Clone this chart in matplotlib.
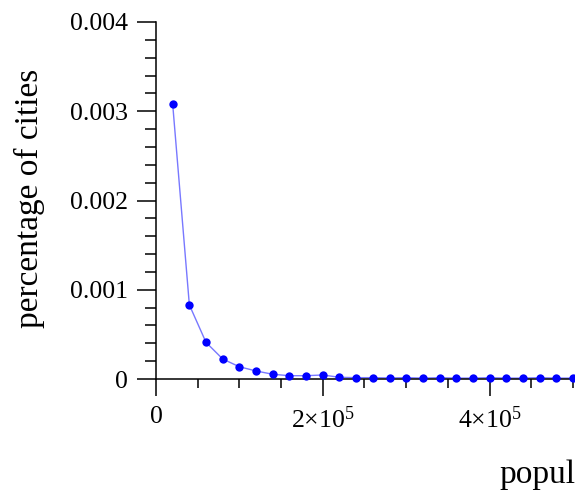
import matplotlib
matplotlib.use('Agg')
import matplotlib.pyplot as plt
from matplotlib.ticker import FixedLocator, FixedFormatter, MultipleLocator

# population bins (upper edge of each 2x10^4 bin) and share of cities
population = [20000, 40000, 60000, 80000, 100000, 120000, 140000, 160000, 180000, 200000,
              220000, 240000, 260000, 280000, 300000, 320000, 340000, 360000, 380000, 400000,
              420000, 440000, 460000, 480000, 500000]
share = [3.08e-3, 0.83e-3, 0.41e-3, 0.224e-3, 0.137e-3, 0.090e-3, 0.053e-3, 0.037e-3, 0.037e-3, 0.045e-3,
         0.019e-3, 0.015e-3, 0.015e-3, 0.012e-3, 0.015e-3, 0.010e-3, 0.015e-3, 0.010e-3, 0.010e-3, 0.015e-3,
         0.010e-3, 0.010e-3, 0.015e-3, 0.010e-3, 0.010e-3]

xticks = [0, 200000, 400000]
xticklabels = ['0', r'$2{\times}10^5$', r'$4{\times}10^5$']
yticks = [0, 0.001, 0.002, 0.003, 0.004]
yticklabels = ['0', '0.001', '0.002', '0.003', '0.004']

plt.rcParams['font.family'] = ['Liberation Serif', 'DejaVu Serif']
plt.rcParams['mathtext.fontset'] = 'custom'
plt.rcParams['mathtext.rm'] = 'Liberation Serif'
plt.rcParams['mathtext.it'] = 'Liberation Serif:italic'

W, H = 575, 491
fig = plt.figure(figsize=(W / 100, H / 100), dpi=100)
# axes run past the right edge of the picture, like the cropped original
ax = fig.add_axes([156 / W, 112 / H, 437 / W, 357 / H])

ax.plot(population, share, color='#7878ff', lw=1.0, zorder=2)
ax.plot(population, share, 'o', color='#0000ff', ms=6.0, mec='none', zorder=3, clip_on=False)

ax.set_xlim(0, 524000)
ax.set_ylim(0, 0.004)

for s in ['top', 'right']:
    ax.spines[s].set_visible(False)
for s in ['left', 'bottom']:
    ax.spines[s].set_linewidth(1.1)

ax.xaxis.set_major_locator(FixedLocator(xticks))
ax.xaxis.set_major_formatter(FixedFormatter(xticklabels))
ax.xaxis.set_minor_locator(MultipleLocator(50000))
ax.yaxis.set_major_locator(FixedLocator(yticks))
ax.yaxis.set_major_formatter(FixedFormatter(yticklabels))
ax.yaxis.set_minor_locator(MultipleLocator(0.0002))

ax.tick_params(axis='x', which='major', direction='out', length=12.5, width=1.1, pad=7, labelsize=18.5)
ax.tick_params(axis='x', which='minor', direction='out', length=6.5, width=1.1)
ax.tick_params(axis='y', which='major', direction='out', length=14, width=1.1, pad=6, labelsize=18.5)
ax.tick_params(axis='y', which='minor', direction='out', length=8, width=1.1)

ax.set_ylabel('percentage of cities', fontsize=24)
ax.yaxis.set_label_coords(-0.254, 0.507)
ax.set_xlabel('population', fontsize=24, ha='left', va='baseline')
ax.xaxis.set_label_coords(0.787, -0.291)

fig.savefig('out.png', dpi=100)
